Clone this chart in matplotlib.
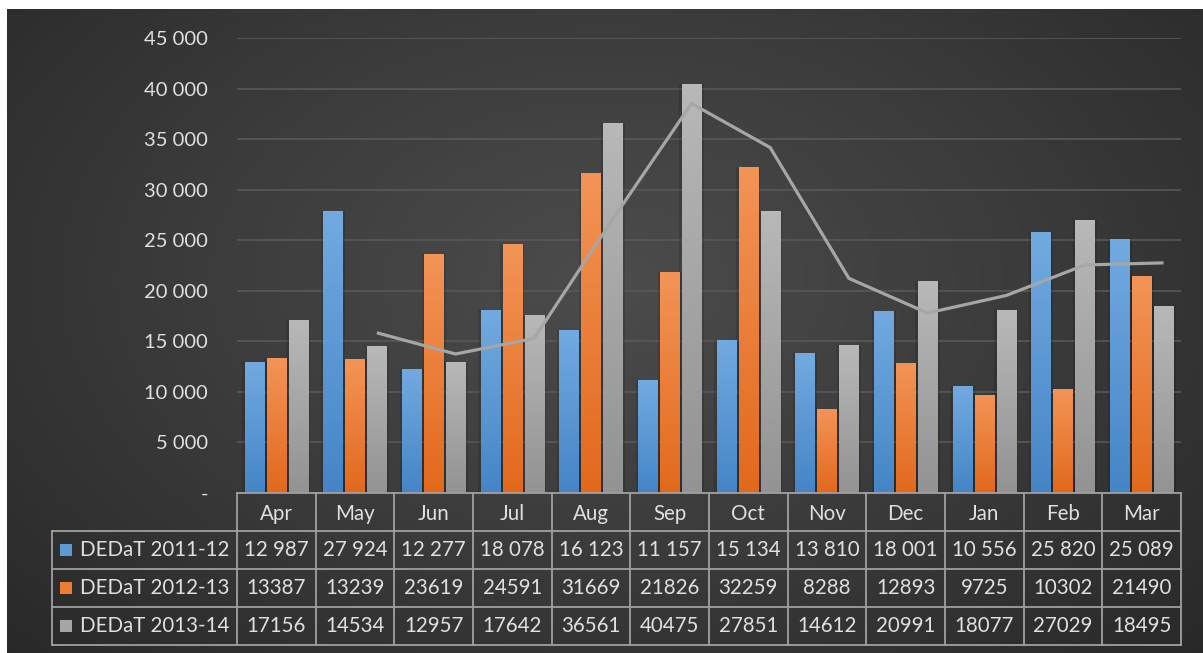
import numpy as np
import pandas as pd
import matplotlib
matplotlib.use('Agg')
import matplotlib.pyplot as plt
from matplotlib.colors import LinearSegmentedColormap

plt.rcParams['font.family'] = ['Lato', 'DejaVu Sans']

# --- Data ---
months = ['Apr', 'May', 'Jun', 'Jul', 'Aug', 'Sep', 'Oct', 'Nov', 'Dec', 'Jan', 'Feb', 'Mar']
series_names = ['DEDaT 2011-12', 'DEDaT 2012-13', 'DEDaT 2013-14']
dedat_2011 = [12987, 27924, 12277, 18078, 16123, 11157, 15134, 13810, 18001, 10556, 25820, 25089]
dedat_2012 = [13387, 13239, 23619, 24591, 31669, 21826, 32259, 8288, 12893, 9725, 10302, 21490]
dedat_2013 = [17156, 14534, 12957, 17642, 36561, 40475, 27851, 14612, 20991, 18077, 27029, 18495]
y_ticks = [0, 5000, 10000, 15000, 20000, 25000, 30000, 35000, 40000, 45000]

# --- Style ---
W, H = 1203, 653
txt_col = '#e0e0e0'
line_col = '#a6a6a6'
grads = [('#72aae0', '#4585c7'), ('#f39457', '#e2691c'), ('#b8b8b8', '#939393')]
key_cols = ['#5b9bd5', '#ed7d31', '#a5a5a5']
fs = 14.8

def frac(x0, y0, x1, y1):
    # pixel box (top-left origin) -> figure fraction rect
    return [x0 / W, 1 - y1 / H, (x1 - x0) / W, (y1 - y0) / H]

fig = plt.figure(figsize=(W / 100, H / 100), dpi=100, facecolor='white')

# --- Background: radial dark gradient ---
bg = fig.add_axes(frac(7, 9, W, H), zorder=-5)
gx, gy = np.meshgrid(np.linspace(0, 1, 300), np.linspace(0, 1, 200))
r = np.sqrt(((gx - 0.5) / 0.75) ** 2 + ((gy - 0.42) / 0.9) ** 2)
bg_cmap = LinearSegmentedColormap.from_list('bg', ['#4c4c4c', '#3a3a3a', '#262626'])
bg.imshow(np.clip(r, 0, 1), cmap=bg_cmap, vmin=0, vmax=1, aspect='auto', extent=[0, 1, 1, 0])
bg.axis('off')

# --- Main chart ---
x0, x1, ytop, ybot = 237, 1181, 38, 493
ax = fig.add_axes(frac(x0, ytop, x1, ybot))
ax.patch.set_alpha(0)
n = len(months)
for s in ax.spines.values():
    s.set_visible(False)
ax.set_xticks([])
ax.set_yticks(y_ticks)
ax.set_yticklabels(['-' if v == 0 else f'{v:,}'.replace(',', ' ') for v in y_ticks])
ax.tick_params(axis='y', length=0, pad=21, labelsize=14.5, labelcolor=txt_col)
ax.grid(axis='y', color='#585858', lw=1.2, zorder=0)
ax.set_axisbelow(True)

xs = np.arange(n)
bw, off = 0.245, 0.278
for k, vals in enumerate([dedat_2011, dedat_2012, dedat_2013]):
    bars = ax.bar(xs + (k - 1) * off, vals, width=bw, color='none', zorder=2)
    cmap = LinearSegmentedColormap.from_list('g%d' % k, [grads[k][1], grads[k][0]])
    for b in bars:
        bx, by, w, h = b.get_x(), b.get_y(), b.get_width(), b.get_height()
        # soft shadow
        ax.bar(bx + w / 2, h, width=w * 1.25, color='black', alpha=0.12, zorder=1.5)
        im = ax.imshow(np.linspace(0, 1, 64).reshape(-1, 1), cmap=cmap, origin='lower',
                       extent=[bx, bx + w, by, by + h], aspect='auto', zorder=2)
        im.set_clip_path(b)

# 2-period moving average trendline of 2013-14
trend = pd.Series(dedat_2013).rolling(2).mean()
ax.plot(xs + off, trend, color=line_col, lw=2.3, zorder=3, solid_capstyle='butt')
ax.set_xlim(-0.5, n - 0.5)
ax.set_ylim(0, 45000)

# --- Data table ---
tx0, ty1 = 52, 645
cw = (x1 - x0) / n
lab_w = (x0 - tx0) / cw
tax = fig.add_axes(frac(tx0, ybot, x1, ty1))
tax.patch.set_alpha(0)
tax.axis('off')
tax.set_xlim(-0.5 - lab_w, n - 0.5)
tax.set_ylim(4, 0)
grid_kw = dict(color='#a0a0a0', lw=1.3, clip_on=False)
left = -0.5 - lab_w
tax.plot([-0.5, n - 0.5], [0, 0], **grid_kw)
for yy in [1, 2, 3, 4]:
    tax.plot([left, n - 0.5], [yy, yy], **grid_kw)
tax.plot([left, left], [1, 4], **grid_kw)
for xx in np.arange(-0.5, n, 1.0):
    tax.plot([xx, xx], [0, 4], **grid_kw)

for i, m in enumerate(months):
    tax.text(i, 0.55, m, ha='center', va='center', color=txt_col, fontsize=fs)

rows = [dedat_2011, dedat_2012, dedat_2013]
for r_i, (name, vals) in enumerate(zip(series_names, rows)):
    yc = r_i + 1.5
    kx = left + 8 / cw
    tax.add_patch(plt.Rectangle((kx, yc - 0.17), 12 / cw, 0.34, color=key_cols[r_i], lw=0))
    tax.text(left + 28 / cw, yc, name, ha='left', va='center', color=txt_col, fontsize=fs)
    for i, v in enumerate(vals):
        s = f'{v:,}'.replace(',', ' ') if r_i == 0 else str(v)
        tax.text(i, yc, s, ha='center', va='center', color=txt_col, fontsize=fs)

fig.savefig('out.png', dpi=100, facecolor='white')
